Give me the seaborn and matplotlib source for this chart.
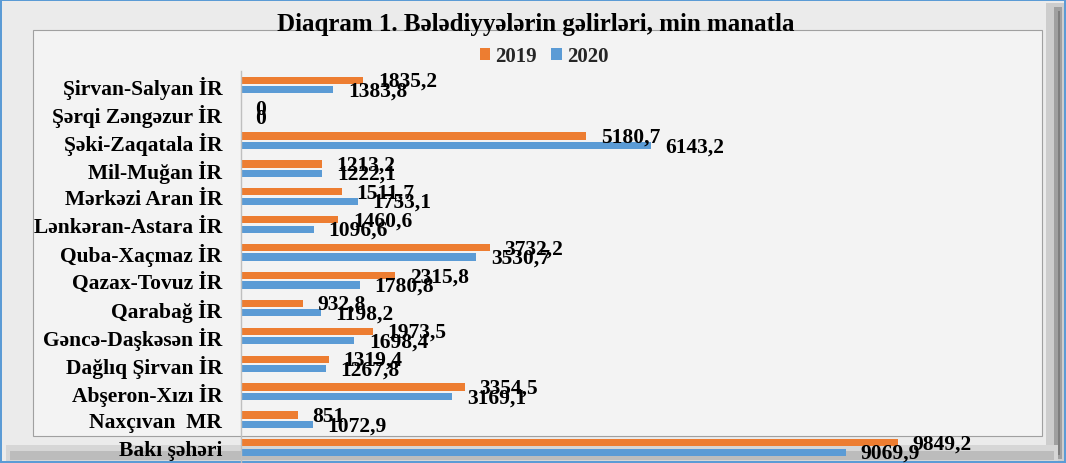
import matplotlib
matplotlib.use("Agg")
import matplotlib.pyplot as plt
import seaborn as sns
import pandas as pd
from matplotlib.patches import Rectangle

regions = ["Şirvan-Salyan İR", "Şərqi Zəngəzur İR", "Şəki-Zaqatala İR", "Mil-Muğan İR",
           "Mərkəzi Aran İR", "Lənkəran-Astara İR", "Quba-Xaçmaz İR", "Qazax-Tovuz İR",
           "Qarabağ İR", "Gəncə-Daşkəsən İR", "Dağlıq Şirvan İR", "Abşeron-Xızı İR",
           "Naxçıvan  MR", "Bakı şəhəri"]
v2019 = [1835.2, 0, 5180.7, 1213.2, 1511.7, 1460.6, 3732.2, 2315.8, 932.8, 1973.5,
         1319.4, 3354.5, 851, 9849.2]
v2020 = [1383.8, 0, 6143.2, 1222.1, 1753.1, 1096.6, 3530.7, 1780.8, 1198.2, 1698.4,
         1267.8, 3169.1, 1072.9, 9069.9]
years = ["2019", "2020"]
colors = ["#ed7d31", "#5b9bd5"]
title = "Diaqram 1. Bələdiyyələrin gəlirləri, min manatla"

df = pd.DataFrame({
    "region": regions * 2,
    "year": [years[0]] * len(regions) + [years[1]] * len(regions),
    "value": v2019 + v2020,
})

sns.set_theme(style="white")
plt.rcParams["font.family"] = ["Liberation Serif", "DejaVu Serif"]

W, H = 1066, 464
fig = plt.figure(figsize=(W / 100, H / 100), dpi=100)
fig.patch.set_facecolor("#5b9bd5")


def px_rect(x0, y0, x1, y1, **kw):
    r = Rectangle((x0 / W, 1 - y1 / H), (x1 - x0) / W, (y1 - y0) / H,
                  transform=fig.transFigure, zorder=-5, **kw)
    fig.patches.append(r)


# picture-frame style background
px_rect(2, 2, W - 2, H - 2, fc="#ebebeb", ec="none")
px_rect(1046, 4, W - 2, H - 2, fc="#cdcdcd", ec="none")
px_rect(1054, 8, W - 4, H - 4, fc="#a0a0a0", ec="none")
px_rect(1058, 12, W - 6, H - 8, fc="#7e7e7e", ec="none")
px_rect(6, 446, W - 8, H - 2, fc="#d6d6d6", ec="none")
px_rect(10, 452, W - 12, H - 3, fc="#bcbcbc", ec="none")
px_rect(33, 31, 1042, 437, fc="#f3f3f3", ec="#a0a0a0", lw=0.8)

ax = fig.add_axes([241 / W, (H - 462.5) / H, 800 / W, 390.5 / H])
ax.set_facecolor("none")

sns.barplot(data=df, y="region", x="value", hue="year", order=regions,
            hue_order=years, palette=colors, saturation=1, width=0.68,
            orient="h", ax=ax, legend=True, linewidth=0)

# thinner bars, keeping their centres
for p in ax.patches:
    c = p.get_y() + p.get_height() / 2
    p.set_height(0.26)
    p.set_y(c - 0.13)
    p.set_linewidth(0)

ax.set_xlim(0, 12000)
ax.set_ylim(len(regions) - 0.5, -0.5)
ax.set_xlabel("")
ax.set_ylabel("")
ax.set_xticks([])
for s in ["top", "right", "bottom"]:
    ax.spines[s].set_visible(False)
ax.spines["left"].set_color("#bfbfbf")
ax.spines["left"].set_linewidth(1)
ax.tick_params(axis="y", length=0, pad=13.5)
for lab in ax.get_yticklabels():
    lab.set_fontweight("bold")
    lab.set_fontsize(15.5)
    lab.set_color("black")

# data labels
for cont in ax.containers:
    for bar, v in zip(cont, cont.datavalues):
        txt = f"{v:g}".replace(".", ",")
        ax.annotate(txt, (bar.get_width(), bar.get_y() + bar.get_height() / 2),
                    xytext=(10.5, -0.5), textcoords="offset points",
                    ha="left", va="center", fontsize=15.5, fontweight="bold",
                    color="black", annotation_clip=False)

handles, labels = ax.get_legend_handles_labels()
ax.get_legend().remove()
fig.legend(handles, labels, loc="center", bbox_to_anchor=(544 / W, 1 - 57 / H),
           ncol=2, frameon=False, handlelength=0.5, handleheight=0.5,
           handletextpad=0.25, columnspacing=0.7,
           prop={"family": "Liberation Serif", "weight": "bold", "size": 15})

fig.text(536 / W, 1 - 25 / H, title, ha="center", va="center",
         fontsize=18, fontweight="bold", color="black")

fig.savefig("out.png", dpi=100, facecolor=fig.get_facecolor())
